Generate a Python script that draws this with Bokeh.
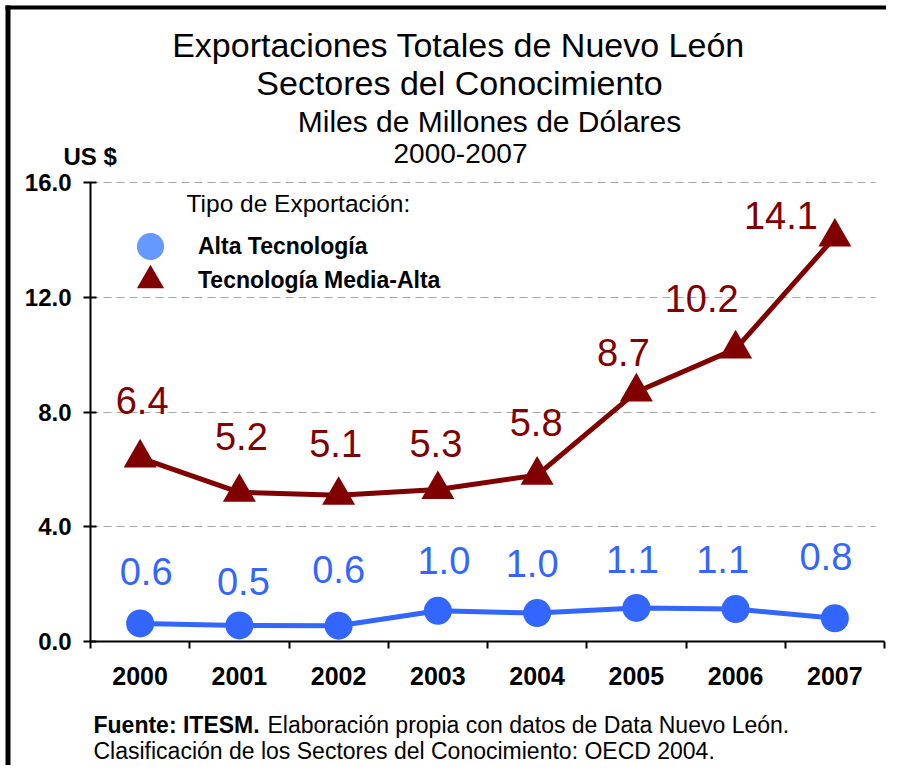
from bokeh.plotting import figure
from bokeh.models import (ColumnDataSource, FixedTicker, Label, Legend, LegendItem,
                          PrintfTickFormatter, Range1d, Grid, BoxAnnotation)
from bokeh.core.properties import value
from bokeh.embed import file_html
from bokeh.resources import INLINE

# ---------------- data ----------------
years = [2000, 2001, 2002, 2003, 2004, 2005, 2006, 2007]
year_labels = ["2000", "2001", "2002", "2003", "2004", "2005", "2006", "2007"]
alta = [0.63, 0.56, 0.55, 1.07, 0.99, 1.17, 1.13, 0.81]
alta_labels = ["0.6", "0.5", "0.6", "1.0", "1.0", "1.1", "1.1", "0.8"]
media = [6.4, 5.2, 5.1, 5.3, 5.8, 8.7, 10.2, 14.1]
media_labels = ["6.4", "5.2", "5.1", "5.3", "5.8", "8.7", "10.2", "14.1"]
y_ticks = [0, 4, 8, 12, 16]

# label placement (pixel offsets of each label's baseline centre from its point)
alta_dx = [6, 4, 0, 6, -5, -4, -13, -9]
alta_dy = [-38, -30, -42, -36, -36, -34, -36, -48]
media_dx = [2, 2, -3, -2, -1, -13, -34, -54]
media_dy = [-43, -42, -38, -32, -39, -25, -36, -7]

BLUE = "#3366FF"
BLUE_LIGHT = "#6699FF"
RED = "#800000"
SANS = "Liberation Sans"
BASE_CORR = 0.37  # em; renderer draws 'alphabetic' text this much lower
VAL_SIZE = 38

# ---------------- layout (pixels) ----------------
W, H = 886, 765
PX_L, PX_R, PX_TOP, PX_BOT = 90, 884, 182, 641
x_lo, x_hi = years[0] - 0.5, years[-1] + 0.5
y_lo, y_hi = y_ticks[0], y_ticks[-1]
xs = (PX_R - PX_L) / (x_hi - x_lo)
ys = (PX_BOT - PX_TOP) / (y_hi - y_lo)

p = figure(width=W, height=H, output_backend="svg", toolbar_location=None,
           x_range=Range1d(x_lo - PX_L / xs, x_hi + (W - PX_R) / xs),
           y_range=Range1d(y_lo - (H - PX_BOT) / ys, y_hi + PX_TOP / ys),
           min_border=0)
p.outline_line_color = None
p.background_fill_color = "white"
p.border_fill_color = "white"

# black frame on the top and left edges of the picture
p.add_layout(BoxAnnotation(left=5, right=W + 20, top=H - 5, bottom=H - 9,
                           left_units="screen", right_units="screen",
                           top_units="screen", bottom_units="screen",
                           fill_color="black", fill_alpha=1, line_color=None, line_alpha=0))
p.add_layout(BoxAnnotation(left=5, right=10, top=H - 5, bottom=-20,
                           left_units="screen", right_units="screen",
                           top_units="screen", bottom_units="screen",
                           fill_color="black", fill_alpha=1, line_color=None, line_alpha=0))

# x axis: ticks at category boundaries (minor ticks), labels centered
p.xaxis.fixed_location = y_lo
p.xaxis.bounds = (x_lo, x_hi)
p.xaxis.ticker = FixedTicker(ticks=years, minor_ticks=[y - 0.5 for y in years] + [x_hi])
p.xaxis.major_label_overrides = {y: l for y, l in zip(years, year_labels)}
p.xaxis.major_tick_in = 0
p.xaxis.major_tick_out = 0
p.xaxis.minor_tick_in = 0
p.xaxis.minor_tick_out = 7
p.xaxis.minor_tick_line_color = "black"
p.xaxis.minor_tick_line_width = 2
p.xaxis.axis_line_width = 2
p.xaxis.axis_line_color = "black"
p.xaxis.major_label_text_font = SANS
p.xaxis.major_label_text_font_style = "bold"
p.xaxis.major_label_text_font_size = "25px"
p.xaxis.major_label_text_color = "black"
p.xaxis.major_label_standoff = 18

p.yaxis.fixed_location = x_lo
p.yaxis.bounds = (y_lo, y_hi)
p.yaxis.ticker = FixedTicker(ticks=y_ticks, minor_ticks=[])
p.yaxis.formatter = PrintfTickFormatter(format="%.1f")
p.yaxis.major_tick_in = 6
p.yaxis.major_tick_out = 7
p.yaxis.major_tick_line_width = 2
p.yaxis.major_tick_line_color = "black"
p.yaxis.axis_line_width = 2
p.yaxis.axis_line_color = "black"
p.yaxis.major_label_text_font = SANS
p.yaxis.major_label_text_font_style = "bold"
p.yaxis.major_label_text_font_size = "24px"
p.yaxis.major_label_text_color = "black"
p.yaxis.major_label_standoff = 12

p.xgrid.visible = False
p.ygrid.ticker = FixedTicker(ticks=y_ticks[1:])
p.ygrid.grid_line_color = "#a6a6a6"
p.ygrid.grid_line_dash = "8 5"
p.ygrid.grid_line_width = 1
if "cross_bounds" in Grid.properties():
    p.ygrid.cross_bounds = (x_lo, x_hi - 0.09)
else:
    p.ygrid.visible = False
    p.segment(x0=x_lo, x1=x_hi - 0.09, y0=y_ticks[1:], y1=y_ticks[1:],
              line_color="#a6a6a6", line_dash="8 5", line_width=1)

# ---------------- series ----------------
corr = BASE_CORR * VAL_SIZE
src_a = ColumnDataSource(dict(x=years, y=alta, t=alta_labels, dx=alta_dx,
                              dy=[d - corr for d in alta_dy]))
src_m = ColumnDataSource(dict(x=years, y=media, t=media_labels, dx=media_dx,
                              dy=[d - corr for d in media_dy]))

# legend proxy (lighter blue circle), hidden underneath the real markers
leg_c = p.scatter("x", "y", source=src_a, marker="circle", size=26,
                  fill_color=BLUE_LIGHT, line_color=None)
p.line("x", "y", source=src_a, line_color=BLUE, line_width=5)
r_a = p.scatter("x", "y", source=src_a, marker="circle", size=28, fill_color=BLUE, line_color=None)
p.line("x", "y", source=src_m, line_color=RED, line_width=5)
r_m = p.scatter("x", "y", source=src_m, marker="triangle", size=33, fill_color=RED, line_color=None)

p.text("x", "y", text="t", x_offset="dx", y_offset="dy", source=src_a,
       text_font=value(SANS), text_font_size=f"{VAL_SIZE}px", text_color=BLUE,
       text_align="center", text_baseline="alphabetic")
p.text("x", "y", text="t", x_offset="dx", y_offset="dy", source=src_m,
       text_font=value(SANS), text_font_size=f"{VAL_SIZE}px", text_color=RED,
       text_align="center", text_baseline="alphabetic")

# ---------------- legend (one legend per row so the symbols can be large) ----------------
leg_common = dict(glyph_width=68, glyph_height=68, label_standoff=14, padding=0, margin=0,
                  label_text_font=SANS, label_text_font_style="bold",
                  label_text_font_size="23px", label_text_color="black",
                  background_fill_alpha=0, border_line_color=None)
p.add_layout(Legend(items=[LegendItem(label="Alta Tecnología", renderers=[leg_c])],
                    location=(116, H - 280), **leg_common))
p.add_layout(Legend(items=[LegendItem(label="Tecnología Media-Alta", renderers=[r_m])],
                    location=(116, H - 314), **leg_common))

def lab(text, x, y, size, style="normal", align="left"):
    # x, y: pixel position (left/centre, baseline) measured from the top-left corner
    p.add_layout(Label(text=text, x=x, y=H - y + BASE_CORR * size,
                       x_units="screen", y_units="screen",
                       text_font=SANS, text_font_size=f"{size}px", text_font_style=style,
                       text_align=align, text_baseline="alphabetic", text_color="black"))

lab("Exportaciones Totales de Nuevo León", 458, 57, 34, align="center")
lab("Sectores del Conocimiento", 459, 95, 34, align="center")
lab("Miles de Millones de Dólares", 489, 132, 30, align="center")
lab("2000-2007", 460, 163, 28, align="center")
lab("US $", 63, 165, 24, style="bold")
lab("Tipo de Exportación:", 186, 212, 24.5)
lab("Fuente: ITESM.", 93, 733, 23, style="bold")
lab("Elaboración propia con datos de Data Nuevo León.", 267, 733, 23)
lab("Clasificación de los Sectores del Conocimiento: OECD 2004.", 93, 759, 23)

open("out.html", "w").write(file_html(p, INLINE))
